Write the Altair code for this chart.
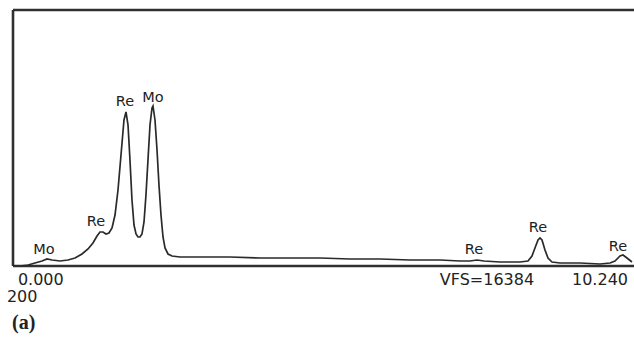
import altair as alt
import pandas as pd

# Spectrum: energy (keV) and counts (full scale VFS = 16384)
energy = [0.000, 0.115, 0.246, 0.360, 0.475, 0.557, 0.639, 0.770, 0.901, 1.016,
          1.130, 1.229, 1.310, 1.376, 1.425, 1.474, 1.523, 1.572, 1.622, 1.671,
          1.720, 1.769, 1.818, 1.851, 1.884, 1.916, 1.949, 1.982, 2.015, 2.048,
          2.080, 2.113, 2.146, 2.178, 2.211, 2.244, 2.277, 2.293, 2.326, 2.359,
          2.391, 2.424, 2.457, 2.490, 2.539, 2.604, 2.735, 3.063, 3.554, 4.046,
          4.537, 5.029, 5.520, 6.012, 6.503, 6.994, 7.322, 7.486, 7.600, 7.715,
          7.977, 8.305, 8.436, 8.501, 8.550, 8.600, 8.632, 8.665, 8.714, 8.763,
          8.829, 8.960, 9.288, 9.615, 9.779, 9.861, 9.943, 9.992, 10.057, 10.139]
counts = [0, 0, 64, 192, 320, 448, 384, 320, 384, 512,
          768, 1088, 1472, 1920, 2176, 2176, 2048, 2112, 2432, 3264,
          4864, 7104, 9344, 9856, 9024, 6784, 4224, 2624, 2048, 1856,
          1856, 2048, 2816, 4544, 6784, 9024, 10112, 10240, 9344, 7424,
          5184, 3264, 1856, 1152, 768, 640, 576, 576, 576, 512,
          512, 512, 448, 448, 384, 384, 320, 320, 384, 320,
          256, 256, 320, 640, 1152, 1664, 1792, 1664, 1024, 512,
          256, 192, 192, 128, 192, 320, 640, 704, 512, 256]

# Peak labels
peak_text = ["Mo", "Re", "Re", "Mo", "Re", "Re", "Re"]
peak_e = [0.508, 1.360, 1.835, 2.293, 7.551, 8.600, 9.910]
peak_c = [1024, 2816, 10500, 10750, 1024, 2432, 1216]

# Scale annotations below the frame
ann_text = ["0.000", "200", "VFS=16384", "10.240"]
ann_e = [0.08, -0.10, 7.764, 9.615]
ann_c = [-900, -1980, -900, -900]
ann_align = ["left", "left", "center", "center"]

X_DOMAIN = [0, 10.172]
Y_DOMAIN = [0, 16384]

spec = pd.DataFrame({"e": energy, "c": counts})
peaks = pd.DataFrame({"t": peak_text, "e": peak_e, "c": peak_c})
ann = pd.DataFrame({"t": ann_text, "e": ann_e, "c": ann_c, "a": ann_align})
tag = pd.DataFrame({"t": ["(a)"], "e": [-0.016], "c": [-3650]})

# Frame (open on the right, as in the original scan)
frame = pd.DataFrame({
    "e": [X_DOMAIN[0], X_DOMAIN[0], X_DOMAIN[0]],
    "e2": [X_DOMAIN[1], X_DOMAIN[0], X_DOMAIN[1]],
    "c": [Y_DOMAIN[1], Y_DOMAIN[0], Y_DOMAIN[0]],
    "c2": [Y_DOMAIN[1], Y_DOMAIN[1], Y_DOMAIN[0]],
})

xs = alt.Scale(domain=X_DOMAIN, nice=False, zero=False)
ys = alt.Scale(domain=Y_DOMAIN, nice=False)
xn = alt.X("e:Q", scale=xs, axis=None)
yn = alt.Y("c:Q", scale=ys, axis=None)

border = alt.Chart(frame).mark_rule(color="#303030", strokeWidth=2.6).encode(
    x=xn, x2="e2:Q", y=yn, y2="c2:Q")

line = alt.Chart(spec).mark_line(color="#2a2a2a", strokeWidth=1.7, clip=True).encode(x=xn, y=yn)

plabels = alt.Chart(peaks).mark_text(font="DejaVu Sans", fontSize=14.5, color="#222",
                                     baseline="middle", align="center").encode(x=xn, y=yn, text="t:N")

alabels_l = alt.Chart(ann[ann.a == "left"]).mark_text(font="DejaVu Sans", fontSize=16, color="#222",
                                                      baseline="middle", align="left").encode(x=xn, y=yn, text="t:N")
alabels_c = alt.Chart(ann[ann.a == "center"]).mark_text(font="DejaVu Sans", fontSize=16, color="#222",
                                                        baseline="middle", align="center").encode(x=xn, y=yn, text="t:N")
tlabel = alt.Chart(tag).mark_text(font="Liberation Serif", fontSize=20, fontWeight="bold", color="#222",
                                  baseline="middle", align="left").encode(x=xn, y=yn, text="t:N")

chart = alt.layer(border, line, plabels, alabels_l, alabels_c, tlabel).properties(
    width=621, height=256,
    autosize=alt.AutoSizeParams(type="none"),
    padding={"left": 13, "top": 10, "right": 0, "bottom": 71},
    background="white",
).configure_view(stroke=None)

chart.save("out.html", embed_options={"renderer": "svg", "actions": False})
